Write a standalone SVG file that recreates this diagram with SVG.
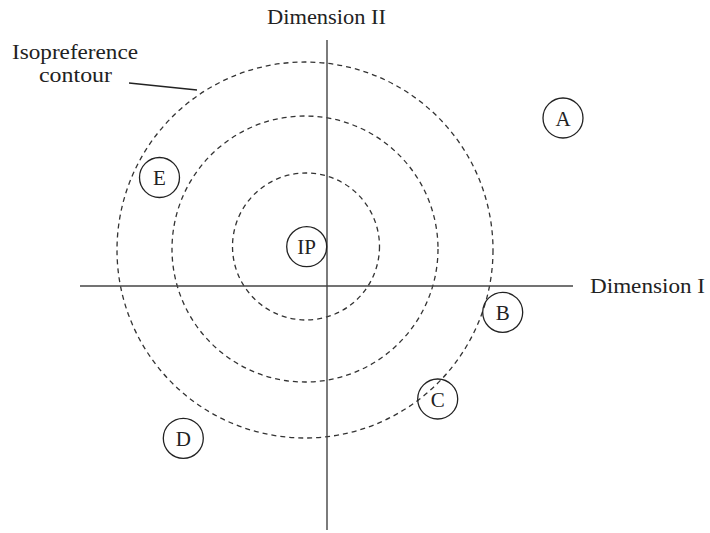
<svg xmlns="http://www.w3.org/2000/svg" width="710" height="533" viewBox="0 0 710 533">
<style>
.bg{fill:#fff}
.axis{stroke:#444;stroke-width:1.4;fill:none}
.contour{stroke:#333;stroke-width:1.3;fill:none;stroke-dasharray:5 4}
.node{stroke:#222;stroke-width:1.3;fill:none}
.lbl{font-family:"Liberation Serif","Times New Roman",serif;font-size:20px;fill:#222}
.nl{font-family:"Liberation Serif","Times New Roman",serif;font-size:21px;fill:#222;text-anchor:middle}
.leader{stroke:#222;stroke-width:1.3;fill:none}
</style>
<rect class="bg" x="0" y="0" width="710" height="533"/>
<g id="contours">
<circle class="contour" cx="305" cy="250" r="188"/>
<circle class="contour" cx="305" cy="249" r="133"/>
<circle class="contour" cx="306" cy="246.5" r="73.5"/>
</g>
<g id="connectors">
<line class="axis" x1="327" y1="40" x2="327" y2="530"/>
<line class="axis" x1="80" y1="286" x2="573" y2="286"/>
<line class="leader" x1="129" y1="83" x2="197" y2="90"/>
</g>
<g id="labels">
<text class="lbl" x="267" y="23.5" textLength="119" lengthAdjust="spacingAndGlyphs">Dimension II</text>
<text class="lbl" x="590" y="293" textLength="115" lengthAdjust="spacingAndGlyphs">Dimension I</text>
<text class="lbl" x="12" y="59" textLength="126" lengthAdjust="spacingAndGlyphs">Isopreference</text>
<text class="lbl" x="39" y="82" textLength="73" lengthAdjust="spacingAndGlyphs">contour</text>
</g>
<g id="node-A"><circle class="node" cx="563" cy="118" r="20"/><text class="nl" x="563" y="125.5">A</text></g>
<g id="node-E"><circle class="node" cx="159.5" cy="177.5" r="20"/><text class="nl" x="159.5" y="185">E</text></g>
<g id="node-IP"><circle class="node" cx="306.7" cy="246.7" r="20"/><text class="nl" x="306.7" y="254.2">IP</text></g>
<g id="node-B"><circle class="node" cx="502.7" cy="312.3" r="20"/><text class="nl" x="502.7" y="319.8">B</text></g>
<g id="node-C"><circle class="node" cx="437.7" cy="399" r="20"/><text class="nl" x="437.7" y="406.5">C</text></g>
<g id="node-D"><circle class="node" cx="183.3" cy="438.3" r="20"/><text class="nl" x="183.3" y="445.8">D</text></g>
</svg>
